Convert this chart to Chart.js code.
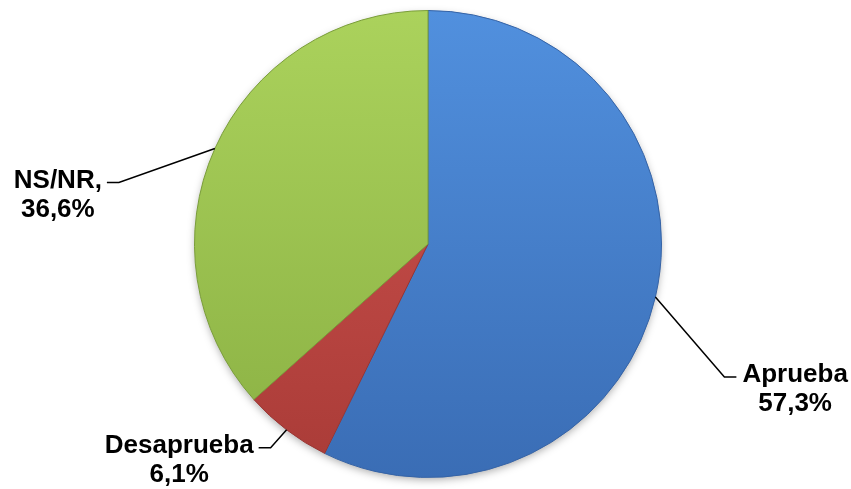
<!DOCTYPE html>
<html>
<head>
<meta charset="utf-8">
<script src="https://cdn.jsdelivr.net/npm/chart.js@4.4.1/dist/chart.umd.min.js"></script>
<style>
  html, body { margin: 0; padding: 0; background: #fff; }
  #wrap { width: 851px; height: 489px; }
</style>
</head>
<body>
<div id="wrap"><canvas id="pie" width="851" height="489"></canvas></div>
<script>
const categories = ["Aprueba", "Desaprueba", "NS/NR"];
const shares = [57.3, 6.1, 36.6];
const labelLines = [["Aprueba", "57,3%"], ["Desaprueba", "6,1%"], ["NS/NR,", "36,6%"]];

// colours: top / bottom of each slice gradient, and edge colour
const topColors = ["#5190de", "#d25551", "#abd25c"];
const bottomColors = ["#3a6db5", "#a93b37", "#8ab043"];
const edgeColors = ["#3563a6", "#9a3532", "#7a9d3a"];

// leader line elbow, relative to the slice's outer mid point; side of the text
const elbows = [
  { dx: 69, dy: 80, side: "right" },
  { dx: -16, dy: 18, side: "left" },
  { dx: -96, dy: 34, side: "left" }
];

const FONT = "bold 26px 'Liberation Sans', Arial, sans-serif";

function sliceGradient(context) {
  const chart = context.chart;
  const area = chart.chartArea;
  if (!area) return topColors[context.dataIndex];
  const g = chart.ctx.createLinearGradient(0, area.top, 0, area.bottom);
  g.addColorStop(0, topColors[context.dataIndex]);
  g.addColorStop(1, bottomColors[context.dataIndex]);
  return g;
}

const shadowPlugin = {
  id: "pieShadow",
  beforeDatasetsDraw(chart) {
    const arc = chart.getDatasetMeta(0).data[0];
    if (!arc) return;
    const ctx = chart.ctx;
    ctx.save();
    ctx.shadowColor = "rgba(0,0,0,0.35)";
    ctx.shadowBlur = 9;
    ctx.shadowOffsetY = 3;
    ctx.fillStyle = "#fff";
    ctx.beginPath();
    ctx.arc(arc.x, arc.y, arc.outerRadius - 1, 0, Math.PI * 2);
    ctx.fill();
    ctx.restore();
  }
};

const leaderPlugin = {
  id: "leaderLabels",
  afterDatasetsDraw(chart) {
    const ctx = chart.ctx;
    const arcs = chart.getDatasetMeta(0).data;
    ctx.save();
    ctx.font = FONT;
    ctx.fillStyle = "#000";
    ctx.strokeStyle = "#000";
    ctx.lineWidth = 1.5;
    arcs.forEach((arc, i) => {
      const mid = (arc.startAngle + arc.endAngle) / 2;
      const ax = arc.x + Math.cos(mid) * arc.outerRadius;
      const ay = arc.y + Math.sin(mid) * arc.outerRadius;
      const e = elbows[i];
      const ex = ax + e.dx;
      const ey = ay + e.dy;
      const dir = e.side === "right" ? 1 : -1;
      const hx = ex + dir * 12;

      ctx.beginPath();
      ctx.moveTo(ax, ay);
      ctx.lineTo(ex, ey);
      ctx.lineTo(hx, ey);
      ctx.stroke();

      const lines = labelLines[i];
      const w0 = ctx.measureText(lines[0]).width;
      const firstLeft = dir === 1 ? hx + 6 : hx - 5 - w0;
      const cx = firstLeft + w0 / 2;
      ctx.textAlign = "center";
      ctx.textBaseline = "alphabetic";
      lines.forEach((t, k) => ctx.fillText(t, cx, ey + 5 + k * 29));
    });
    ctx.restore();
  }
};

new Chart(document.getElementById("pie"), {
  type: "pie",
  data: {
    labels: categories,
    datasets: [{
      data: shares,
      backgroundColor: sliceGradient,
      borderColor: edgeColors,
      borderWidth: 1
    }]
  },
  options: {
    responsive: false,
    animation: false,
    rotation: 0,
    layout: { padding: { top: 10, bottom: 11, left: 5, right: 0 } },
    plugins: {
      legend: { display: false },
      tooltip: { enabled: false }
    }
  },
  plugins: [shadowPlugin, leaderPlugin]
});
</script>
</body>
</html>
